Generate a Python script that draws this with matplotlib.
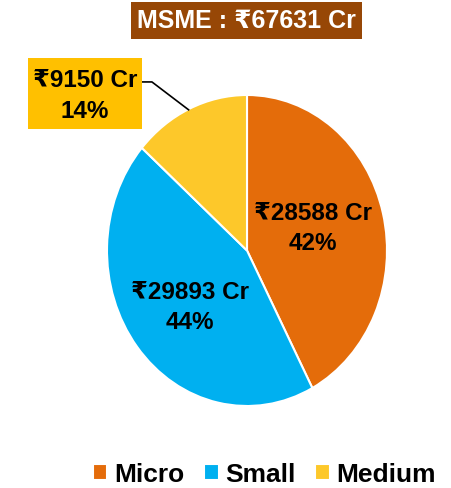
import numpy as np
import matplotlib.pyplot as plt
from matplotlib.patches import Rectangle

categories = ['Micro', 'Small', 'Medium']
amounts = [28588, 29893, 9150]
shares = [42, 44, 14]
colors = ['#E46C0A', '#00B0F0', '#FDC82A']
total = 67631

fam = ['Liberation Sans Narrow', 'Liberation Sans', 'DejaVu Sans']

fig = plt.figure(figsize=(4.51, 4.89), dpi=100)
W, H = 451, 489
# pie is drawn slightly taller than wide, like the original
cx, cy, rx, ry = 247, 251.5, 140, 155.5
ax = fig.add_axes([(cx - rx) / W, (H - cy - ry) / H, 2 * rx / W, 2 * ry / H])

wedges, _ = ax.pie(amounts, colors=colors, startangle=90, counterclock=False,
                   wedgeprops=dict(edgecolor='white', linewidth=1.5))
ax.set_xlim(-1, 1)
ax.set_ylim(-1, 1)
ax.set_aspect('auto')
ax.axis('off')

labels = ['\u20b9%d Cr\n%d%%' % (a, s) for a, s in zip(amounts, shares)]
ax.text(0.471, 0.148, labels[0], ha='center', va='center', fontsize=17.5,
        fontweight='bold', family=fam, linespacing=1.4)
ax.text(-0.407, -0.36, labels[1], ha='center', va='center', fontsize=17.5,
        fontweight='bold', family=fam, linespacing=1.4)

# medium label outside with leader line
mid = np.deg2rad(90 + 360 * shares[2] / 100 / 2)
px, py = np.cos(mid), np.sin(mid)
ax.plot([-0.75, -0.679, px * 0.98], [1.084, 1.084, py], color='black', lw=1.2, clip_on=False)
ax.add_patch(Rectangle((-1.564, 0.781), 0.814, 0.457, fc='#FFC000', ec='none',
                       clip_on=False, zorder=3))
ax.text(-1.157, 1.0, labels[2], ha='center', va='center', fontsize=17.5,
        fontweight='bold', family=fam, linespacing=1.4, clip_on=False, zorder=4)

# title box
fig.patches.append(Rectangle((131 / W, 1 - 40 / H), 231 / W, 37 / H, fc='#974706',
                             ec='none', transform=fig.transFigure, figure=fig))
fig.text(246.5 / W, 1 - 21.5 / H, 'MSME : \u20b9%d Cr' % total, ha='center', va='center',
         fontsize=18, fontweight='bold', color='white', family=fam)

leg = fig.legend(wedges, categories, loc='center', bbox_to_anchor=(264.5 / W, 1 - 475 / H),
                 ncol=3, frameon=False, handlelength=0.55, handleheight=0.55,
                 handletextpad=0.25, columnspacing=0.75,
                 prop=dict(family=fam, weight='bold', size=19))

fig.savefig('out.png', dpi=100)
